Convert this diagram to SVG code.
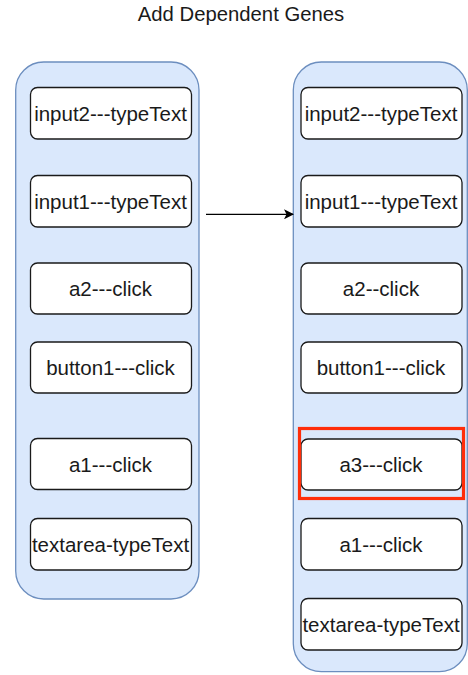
<svg xmlns="http://www.w3.org/2000/svg" width="468" height="675" viewBox="0 0 468 675">
<style>
.cont{fill:#dae8fc;stroke:#6c8ebf;stroke-width:1.3}
.node rect{fill:#fff;stroke:#1a1a1a;stroke-width:1.3}
text{font-family:"Liberation Sans",Arial,sans-serif;font-size:20.5px;fill:#1a1a1a;text-anchor:middle}
.title{font-size:20.3px}
</style>
<defs>
<marker id="arr" markerWidth="10" markerHeight="10" refX="9" refY="5" orient="auto" markerUnits="userSpaceOnUse">
<path d="M0,0 L10,5 L0,10 L2.5,5 Z" fill="#000"/>
</marker>
</defs>
<text class="title" x="241" y="21">Add Dependent Genes</text>
<g id="left-container"><rect class="cont" x="15.7" y="62" width="183.3" height="537" rx="28" ry="28"/></g>
<g id="right-container"><rect class="cont" x="293.3" y="62" width="174" height="609.7" rx="28" ry="28"/></g>
<g id="l-input2" class="node"><rect x="30.5" y="87.5" width="161" height="51.5" rx="7"/><text x="110.5" y="120.5">input2---typeText</text></g>
<g id="l-input1" class="node"><rect x="30.5" y="175.5" width="161" height="51.5" rx="7"/><text x="110.5" y="208.5">input1---typeText</text></g>
<g id="l-a2" class="node"><rect x="30.5" y="263" width="161" height="51" rx="7"/><text x="110.5" y="296">a2---click</text></g>
<g id="l-button1" class="node"><rect x="30.5" y="342" width="161" height="51" rx="7"/><text x="110.5" y="375">button1---click</text></g>
<g id="l-a1" class="node"><rect x="30.5" y="438.5" width="161" height="51" rx="7"/><text x="110.5" y="471.5">a1---click</text></g>
<g id="l-textarea" class="node"><rect x="30.5" y="518.5" width="161" height="51.5" rx="7"/><text x="110.5" y="551.5">textarea-typeText</text></g>
<g id="r-input2" class="node"><rect x="301" y="87.5" width="161" height="51.5" rx="7"/><text x="381" y="120.5">input2---typeText</text></g>
<g id="r-input1" class="node"><rect x="301" y="175.5" width="161" height="51.5" rx="7"/><text x="381" y="208.5">input1---typeText</text></g>
<g id="r-a2" class="node"><rect x="301" y="263" width="161" height="51" rx="7"/><text x="381" y="296">a2--click</text></g>
<g id="r-button1" class="node"><rect x="301" y="342" width="161" height="51" rx="7"/><text x="381" y="375">button1---click</text></g>
<g id="r-a3" class="node"><rect x="301" y="439" width="161" height="51" rx="7"/><text x="381" y="472">a3---click</text></g>
<g id="r-highlight"><rect x="299.5" y="428.5" width="164" height="70" fill="none" stroke="#ff2d0a" stroke-width="3.2"/></g>
<g id="r-a1" class="node"><rect x="301" y="518.5" width="161" height="51.5" rx="7"/><text x="381" y="551.5">a1---click</text></g>
<g id="r-textarea" class="node"><rect x="301" y="598.5" width="161" height="51.5" rx="7"/><text x="381" y="631.5">textarea-typeText</text></g>
<g id="connectors"><line x1="206" y1="214.3" x2="293" y2="214.3" stroke="#000" stroke-width="1.3" marker-end="url(#arr)"/></g>
</svg>
